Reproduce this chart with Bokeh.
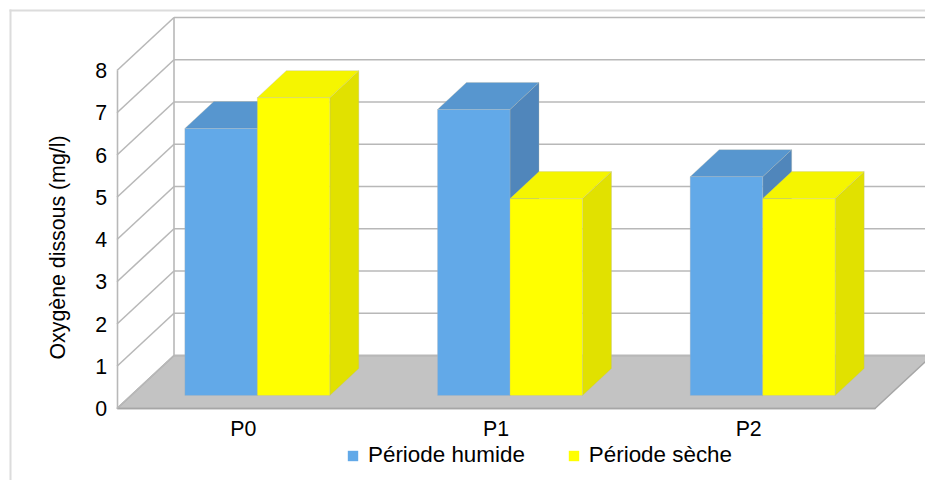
import math
from bokeh.plotting import figure
from bokeh.core.properties import value
from bokeh.models import Range1d, FixedTicker, Legend, LegendItem, BoxAnnotation
from bokeh.embed import file_html
from bokeh.resources import INLINE

categories = ["P0", "P1", "P2"]
humide = [6.32, 6.77, 5.18]
seche = [7.05, 4.66, 4.66]
series_names = ["Période humide", "Période sèche"]
y_ticks = [0, 1, 2, 3, 4, 5, 6, 7, 8]
axis_title = "Oxygène dissous (mg/l)"

FONT = "Liberation Sans"
SIZE = "21.33px"
W, H = 925, 480
LEFT, BOTTOM = 116.5, 408
PX_X = 252.67   # pixels per category
PX_Y = 42.25    # pixels per unit
WALL_X, WALL_Y = 57 / PX_X, 53 / PX_Y
BAR_OX, BAR_OY = 14 / PX_X, 13 / PX_Y
BAR_DX, BAR_DY = 29 / PX_X, 27 / PX_Y
BAR_W = 72.5 / PX_X
GRID = "#b8b8b8"

x_min = -LEFT / PX_X
x_max = (W - LEFT) / PX_X
y_max = BOTTOM / PX_Y
y_min = -(H - BOTTOM) / PX_Y

p = figure(width=W, height=H, output_backend="svg", toolbar_location=None,
           x_range=Range1d(x_min, x_max), y_range=Range1d(y_min, y_max),
           min_border_left=0, min_border_right=0, min_border_top=0, min_border_bottom=0,
           outline_line_color=None, background_fill_color="white", border_fill_color="white")
p.grid.visible = False

# floor
p.patch([0, len(categories), len(categories) + WALL_X, WALL_X], [0, 0, WALL_Y, WALL_Y],
        fill_color="#c3c3c3", line_color="#a6a6a6", line_width=1.5)

# walls
p.segment(x0=[WALL_X] * len(y_ticks), y0=[v + WALL_Y for v in y_ticks],
          x1=[x_max] * len(y_ticks), y1=[v + WALL_Y for v in y_ticks],
          line_color=GRID, line_width=1.6)
p.segment(x0=[0] * len(y_ticks), y0=y_ticks,
          x1=[WALL_X] * len(y_ticks), y1=[v + WALL_Y for v in y_ticks],
          line_color=GRID, line_width=1.6)
p.segment(x0=[WALL_X], y0=[WALL_Y], x1=[WALL_X], y1=[max(y_ticks) + WALL_Y],
          line_color=GRID, line_width=1.6)


def draw(left, right, v, front, top, side):
    b, t = BAR_OY, v + BAR_OY
    p.patch([right, right + BAR_DX, right + BAR_DX, right],
            [b, b + BAR_DY, t + BAR_DY, t], fill_color=side, line_color="#b5b5a0", line_width=0.5, line_alpha=0.6)
    p.patch([left, right, right + BAR_DX, left + BAR_DX],
            [t, t, t + BAR_DY, t + BAR_DY], fill_color=top, line_color="#b5b5a0", line_width=0.5, line_alpha=0.6)
    r = p.quad(left=[left], right=[right], bottom=[b], top=[t], fill_color=front, line_color=None)
    p.quad(left=[left], right=[right], bottom=[b], top=[t], fill_color=None,
           line_color="#b5b5b5", line_width=0.5, line_alpha=0.6)
    return r


r_h, r_s = None, None
for i, cat in enumerate(categories):
    c = i + 0.5 + BAR_OX
    r_h = draw(c - BAR_W, c, humide[i], "#62a9e8", "#5796cf", "#5086bb")
    r_s = draw(c, c + BAR_W, seche[i], "#ffff00", "#f5f500", "#e1e100")

ya = p.yaxis[0]
ya.ticker = FixedTicker(ticks=y_ticks)
ya.bounds = (0, max(y_ticks))
ya.fixed_location = 0
ya.axis_line_color = GRID
ya.axis_line_width = 1.6
ya.major_tick_line_color = None
ya.minor_tick_line_color = None
ya.major_label_text_font = FONT
ya.major_label_text_font_size = SIZE
ya.major_label_text_color = "black"
ya.major_label_standoff = 4

p.text(x=[(57 - LEFT) / PX_X], y=[(BOTTOM - 247) / PX_Y], text=[axis_title], angle=math.pi / 2,
       text_font=value(FONT), text_font_size=value(SIZE), text_color="black",
       text_align="center", text_baseline="middle")

xa = p.xaxis[0]
xa.ticker = FixedTicker(ticks=[i + 0.5 for i in range(len(categories))])
xa.major_label_overrides = {i + 0.5: c for i, c in enumerate(categories)}
xa.bounds = (0, len(categories))
xa.fixed_location = 0
xa.axis_line_color = "#a6a6a6"
xa.axis_line_width = 1.6
xa.major_tick_line_color = None
xa.minor_tick_line_color = None
xa.major_label_text_font = FONT
xa.major_label_text_font_size = SIZE
xa.major_label_text_color = "black"
xa.major_label_standoff = 2

legend = Legend(items=[LegendItem(label=series_names[0], renderers=[r_h]),
                       LegendItem(label=series_names[1], renderers=[r_s])],
                location=(346, 12), orientation="horizontal", border_line_color=None,
                background_fill_alpha=0, padding=0, margin=0, spacing=42,
                glyph_width=13, glyph_height=13, label_standoff=9,
                label_text_font=FONT, label_text_font_size="22.4px", label_text_color="black")
p.add_layout(legend, "center")

# outer chart border
p.add_layout(BoxAnnotation(left=9, right=11, top=9, bottom=H, left_units="canvas", right_units="canvas",
                           top_units="canvas", bottom_units="canvas", fill_color="#dcdcdc", fill_alpha=1,
                           line_color=None))
p.add_layout(BoxAnnotation(left=9, right=W, top=9, bottom=11, left_units="canvas", right_units="canvas",
                           top_units="canvas", bottom_units="canvas", fill_color="#dcdcdc", fill_alpha=1,
                           line_color=None))

open("out.html", "w").write(file_html(p, INLINE))
